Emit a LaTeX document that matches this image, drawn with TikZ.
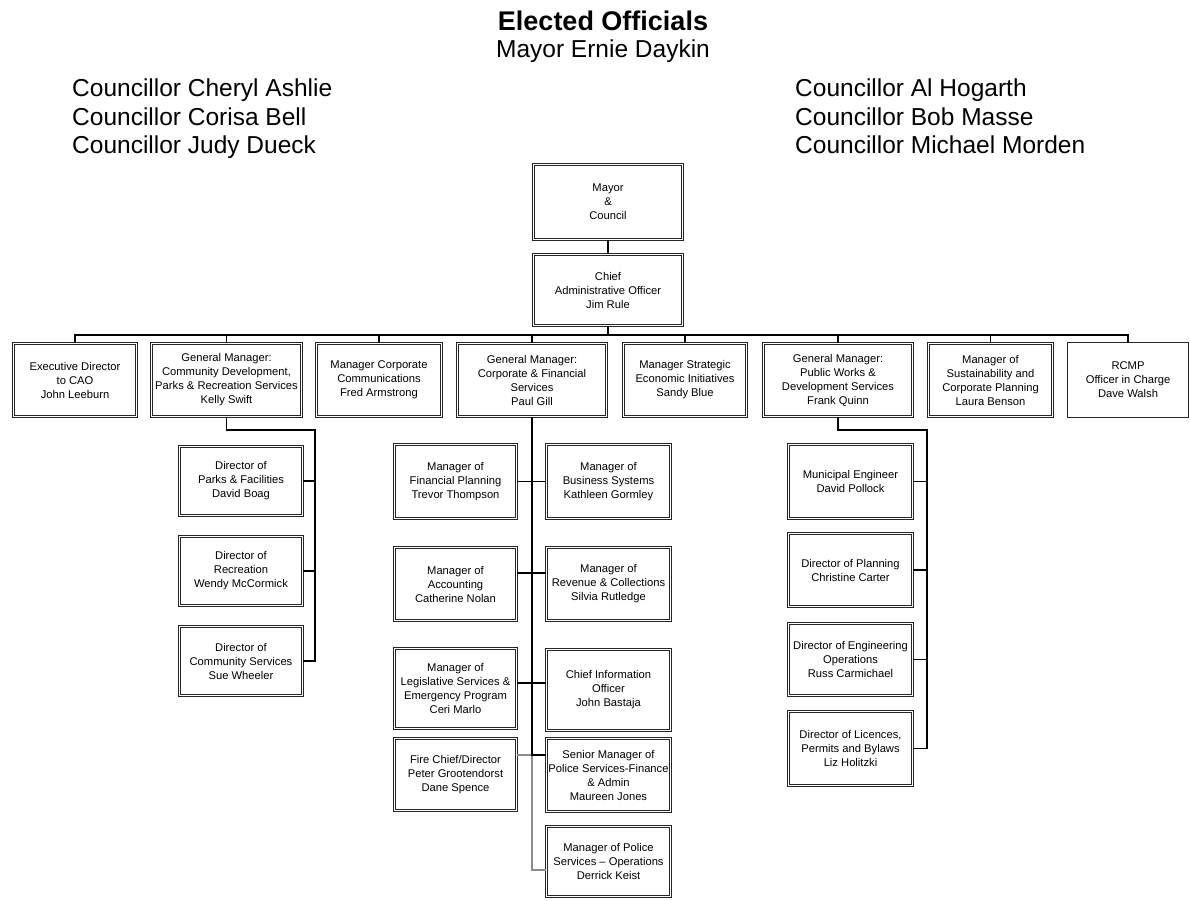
\documentclass[tikz,border=0pt]{standalone}
\usepackage{fontspec}
\setmainfont{Liberation Sans}
\newcommand\postfont{\fontsize{11.2}{14}\selectfont}
\newcommand\headfont{\fontsize{24.5}{28.5}\selectfont}
\tikzset{
  office/.style={draw=black!85, double=white, double distance=1.8pt, line width=0.8pt,
    align=center, inner sep=0pt, font=\postfont},
  plainoffice/.style={draw=black!85, line width=0.8pt, align=center, inner sep=0pt, font=\postfont},
  link/.style={line width=1.8pt},
  thinlink/.style={line width=1.4pt},
  greylink/.style={line width=1.3pt, draw=black!45},
  head/.style={inner sep=0pt, font=\headfont},
}
\begin{document}
\begin{tikzpicture}[x=1pt, y=-1pt]
    \useasboundingbox (0,0) rectangle (1190,901);
    % elected officials
    \node[head, font=\fontsize{27}{30}\selectfont\bfseries] (elected) at (603,21) {Elected Officials};
    \node[head] (mayorname) at (603,51) {Mayor Ernie Daykin};
    \node[head, anchor=north west, align=left] (leftcouncil) at (72,79)
        {Councillor Cheryl Ashlie\\Councillor Corisa Bell\\Councillor Judy Dueck};
    \node[head, anchor=north west, align=left] (rightcouncil) at (795,79)
        {Councillor Al Hogarth\\Councillor Bob Masse\\Councillor Michael Morden};
    % top of the chart
    \node[office, minimum width=149, minimum height=75] (mayor) at (608,202) {Mayor\\\&\\Council};
    \node[office, minimum width=149, minimum height=71] (cao) at (608,290)
        {Chief\\Administrative Officer\\Jim Rule};
    % second row
    \node[office, minimum width=123, minimum height=73] (exec) at (75,380)
        {Executive Director\\to CAO\\John Leeburn};
    \node[office, minimum width=150, minimum height=73] (gmcom) at (226.5,380)
        {General Manager:\\Community Development,\\Parks \& Recreation Services\\Kelly Swift};
    \node[office, minimum width=125, minimum height=73] (comms) at (379,380)
        {Manager Corporate\\Communications\\Fred Armstrong};
    \node[office, minimum width=149, minimum height=73] (gmcorp) at (532,380)
        {General Manager:\\Corporate \& Financial\\Services\\Paul Gill};
    \node[office, minimum width=123, minimum height=73] (strat) at (685,380)
        {Manager Strategic\\Economic Initiatives\\Sandy Blue};
    \node[office, minimum width=149, minimum height=73] (gmpw) at (838,380)
        {General Manager:\\Public Works \&\\Development Services\\Frank Quinn};
    \node[office, minimum width=124, minimum height=73] (sust) at (990.5,380)
        {Manager of\\Sustainability and\\Corporate Planning\\Laura Benson};
    \node[plainoffice, minimum width=121, minimum height=75] (rcmp) at (1128,380)
        {RCMP\\Officer in Charge\\Dave Walsh};
    % community development
    \node[office, minimum width=123, minimum height=69] (parks) at (241,481)
        {Director of\\Parks \& Facilities\\David Boag};
    \node[office, minimum width=123, minimum height=69] (rec) at (241,571)
        {Director of\\Recreation\\Wendy McCormick};
    \node[office, minimum width=123, minimum height=69] (csvc) at (241,661)
        {Director of\\Community Services\\Sue Wheeler};
    % corporate and financial
    \node[office, minimum width=122, minimum height=74] (fin) at (455.5,481.5)
        {Manager of\\Financial Planning\\Trevor Thompson};
    \node[office, minimum width=124, minimum height=74] (biz) at (608.5,481.5)
        {Manager of\\Business Systems\\Kathleen Gormley};
    \node[office, minimum width=122, minimum height=73] (acct) at (455.5,584)
        {Manager of\\Accounting\\Catherine Nolan};
    \node[office, minimum width=124, minimum height=73] (rev) at (608.5,584)
        {Manager of\\Revenue \& Collections\\Silvia Rutledge};
    \node[office, minimum width=122, minimum height=80] (legis) at (455.5,688.5)
        {Manager of\\Legislative Services \&\\Emergency Program\\Ceri Marlo};
    \node[office, minimum width=124, minimum height=81] (cio) at (608.5,690)
        {Chief Information\\Officer\\John Bastaja};
    \node[office, minimum width=122, minimum height=72] (fire) at (455.5,774.5)
        {Fire Chief/Director\\Peter Grootendorst\\Dane Spence};
    \node[office, minimum width=124, minimum height=73] (snr) at (608.5,775)
        {Senior Manager of\\Police Services-Finance\\\& Admin\\Maureen Jones};
    \node[office, minimum width=124, minimum height=70] (polops) at (608.5,861.5)
        {Manager of Police\\Services – Operations\\Derrick Keist};
    % public works
    \node[office, minimum width=124, minimum height=74] (muni) at (850.5,481.5)
        {Municipal Engineer\\David Pollock};
    \node[office, minimum width=124, minimum height=73] (plan) at (850.5,570)
        {Director of Planning\\Christine Carter};
    \node[office, minimum width=124, minimum height=72] (engops) at (850.5,659.5)
        {Director of Engineering\\Operations\\Russ Carmichael};
    \node[office, minimum width=124, minimum height=74] (lic) at (850.5,748.5)
        {Director of Licences,\\Permits and Bylaws\\Liz Holitzki};
    % connectors
    \coordinate (bus) at (608,335);
    \draw[link] (mayor) -- (cao);
    \draw[link] (cao) -- (bus);
    \draw[link] (exec.north) |- (bus) -| (rcmp.north);
    \foreach \n in {gmcom,comms,gmcorp,strat,gmpw,sust}
        \draw[link] (\n.north) -- (\n.north |- bus);
    \coordinate (comelbow) at (315,430);
    \draw[link] (gmcom.south) |- (comelbow) |- (csvc.east);
    \foreach \n in {parks,rec}
        \draw[link] (\n.east) -- (\n.east -| comelbow);
    \path ([yshift=20]snr.west) coordinate (snrtap);
    \draw[greylink] ([yshift=19.5]fire.east) -- (gmcorp.south |- snrtap) |- ([yshift=-8.5]polops.west);
    \draw[link] (gmcorp.south) -- (gmcorp.south |- snrtap) -- (snrtap);
    \draw[link] (fin.east) -- (biz.west);
    \draw[link] ([yshift=11]acct.east) -- ([yshift=11]rev.west);
    \draw[link] ([yshift=5.5]legis.east) -- ([yshift=7]cio.west);
    \coordinate (pwelbow) at (927,430);
    \draw[thinlink] (gmpw.south) |- (pwelbow) |- (lic.east);
    \foreach \n in {muni,plan,engops}
        \draw[thinlink] (\n.east) -- (\n.east -| pwelbow);
\end{tikzpicture}
\end{document}
